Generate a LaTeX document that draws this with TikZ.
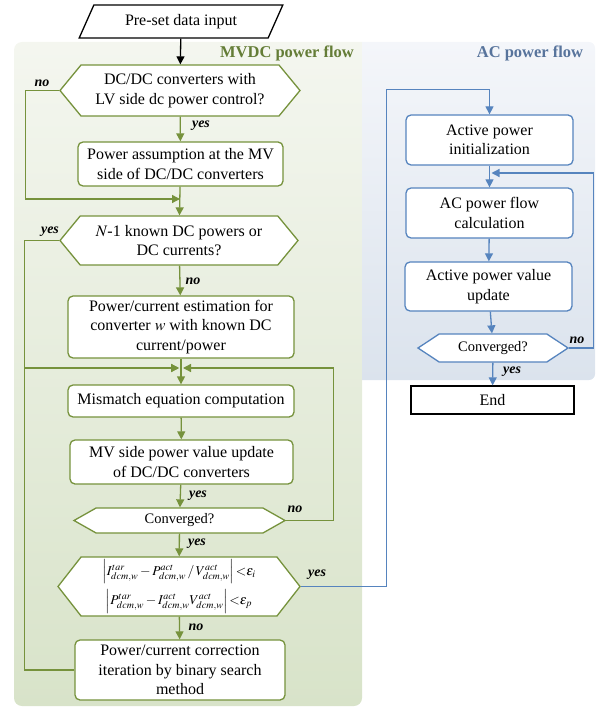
\documentclass[tikz,border=0pt]{standalone}
\usepackage{mathptmx}
\usepackage{fontspec}
\setmainfont{Liberation Serif}
\usepackage{tikz}
\usetikzlibrary{shapes.geometric, shapes.symbols}
\usetikzlibrary{arrows.meta}
\usepackage{xcolor}
\definecolor{mvGreen}{RGB}{118, 146, 60}
\definecolor{mvTitle}{RGB}{100, 125, 55}
\definecolor{acBlue}{RGB}{86, 132, 190}
\definecolor{acTitle}{RGB}{88, 116, 156}
\colorlet{mvTop}{white!92!mvGreen}
\definecolor{mvBottom}{RGB}{216, 227, 201}
\definecolor{acTop}{RGB}{244, 246, 250}
\definecolor{acBottom}{RGB}{219, 227, 237}
\tikzset{
    txt/.style={font=\fontsize{16}{19.5}\selectfont, align=center},
    small/.style={font=\fontsize{14.5}{17}\selectfont},
    mvbox/.style={txt, draw=mvGreen, fill=white, line width=1.3pt, rounded corners=5pt, inner sep=0pt},
    acbox/.style={txt, draw=acBlue, fill=white, line width=1.3pt, rounded corners=5pt, inner sep=0pt},
    mvhex/.style={txt, signal, signal to=west and east, draw=mvGreen, fill=white, line width=1.3pt, inner sep=0pt},
    achex/.style={txt, signal, signal to=west and east, draw=acBlue, fill=white, line width=1.3pt, inner sep=0pt},
    mvline/.style={draw=mvGreen, line width=1.3pt},
    acline/.style={draw=acBlue, line width=1.3pt},
    tip/.style={-{Triangle[width=8pt,length=8pt]}},
    title/.style={font=\fontsize{16.5}{19}\selectfont\bfseries},
    lbl/.style={font=\fontsize{14}{16}\selectfont\bfseries\itshape, inner sep=0pt}
}

\begin{document}
\begin{tikzpicture}[x=1pt, y=-1pt]
    \useasboundingbox (0,0) rectangle (597,708);

    % Draw the two background panels
    \shade[top color=mvTop, bottom color=mvBottom] (362,42) {[rounded corners=8pt] -- (14,42) -- (14,706) -- (362,706)} -- cycle;
    \shade[top color=acTop, bottom color=acBottom] (362,42) {[rounded corners=6pt] -- (595,42) -- (595,380)} -- (362,380) -- cycle;
    \node[title, text=mvTitle] (mvtitle) at (287,53) {MVDC power flow};
    \node[title, text=acTitle] (actitle) at (530,53) {AC power flow};

    % MVDC power flow
    \node[txt, trapezium, trapezium left angle=57, trapezium right angle=123, trapezium stretches=true,
          draw, line width=1.3pt, fill=white, minimum width=204pt, minimum height=33pt, inner sep=0pt] (input) at (181,21.5) {Pre-set data input};
    \node[mvhex, signal pointer angle=101, minimum width=240pt, minimum height=51pt] (lvctrl) at (180,90.5) {DC/DC converters with\\LV side dc power control?};
    \node[mvbox, minimum width=205pt, minimum height=44pt] (assume) at (180.5,164) {Power assumption at the MV\\side of DC/DC converters};
    \node[mvhex, signal pointer angle=101, minimum width=238pt, minimum height=49pt] (known) at (179,240.5) {$N$-1 known DC powers or\\DC currents?};
    \node[mvbox, minimum width=226pt, minimum height=62pt] (estim) at (181,327) {Power/current estimation for\\converter $w$ with known DC\\current/power};
    \node[mvbox, minimum width=226pt, minimum height=32pt] (mism) at (181,401) {Mismatch equation computation};
    \node[mvbox, minimum width=223pt, minimum height=44pt] (mvupd) at (181.5,462) {MV side power value update\\of DC/DC converters};
    \node[mvhex, small, signal pointer angle=59, minimum width=211pt, minimum height=25pt] (mvconv) at (179.5,520.5) {Converged?};
    \node[mvhex, font=\fontsize{13.5}{16}\selectfont, signal pointer angle=104, minimum width=242pt, minimum height=59pt] (check) at (179,586.5)
        {$\left|I^{tar}_{dcm,w}-P^{act}_{dcm,w}\,/\,V^{act}_{dcm,w}\right|{<}\varepsilon_i$\\[4pt]$\left|P^{tar}_{dcm,w}-I^{act}_{dcm,w}V^{act}_{dcm,w}\right|{<}\varepsilon_p$};
    \node[mvbox, minimum width=210pt, minimum height=60pt] (corr) at (180,670) {Power/current correction\\iteration by binary search\\method};

    % AC power flow
    \node[acbox, minimum width=167pt, minimum height=50pt] (init) at (489.5,140) {Active power\\initialization};
    \node[acbox, minimum width=167pt, minimum height=50pt] (acpf) at (489.5,213) {AC power flow\\calculation};
    \node[acbox, minimum width=167pt, minimum height=49pt] (acupd) at (488.5,286.5) {Active power value\\update};
    \node[achex, small, signal pointer angle=67, minimum width=150pt, minimum height=28pt] (acconv) at (493,348) {Converged?};
    \node[txt, draw, line width=1.3pt, fill=white, minimum width=163pt, minimum height=28pt, inner sep=0pt] (end) at (492.5,400) {End};

    % Junctions
    \coordinate (jin) at (181,199);
    \coordinate (jloop) at (181,368);
    \coordinate (jac) at (489.5,173);

    % Connectors of the MVDC part
    \draw[line width=1.3pt, tip] (input) -- (lvctrl);
    \draw[mvline, tip] (lvctrl) -- (assume);
    \draw[mvline, tip] (lvctrl.west) -- ++(-34,0) |- ([xshift=-1pt]jin);
    \draw[mvline, tip] (assume) -- (known);
    \draw[mvline, tip] (known) -- (estim);
    \draw[mvline, tip] (known.west) -- ++(-35,0) |- ([xshift=-2pt]jloop);
    \draw[mvline, tip] (corr.west) -- ++(-50,0) |- ([xshift=-2pt]jloop);
    \draw[mvline, tip] (mvconv.east) -- ++(47,0) |- ([xshift=2pt]jloop);
    \draw[mvline, tip] (estim) -- (mism);
    \draw[mvline, tip] (mism) -- (mvupd);
    \draw[mvline, tip] (mvupd) -- (mvconv);
    \draw[mvline, tip] (mvconv) -- (check);
    \draw[mvline, tip] (check) -- (corr);

    % Connectors of the AC part
    \draw[acline, tip] (check.east) -- ++(86,0) |- ([yshift=25pt]init.north) -- (init.north);
    \draw[acline, tip] (init) -- (acpf);
    \draw[acline, tip] (acpf) -- (acupd);
    \draw[acline, tip] (acupd) -- (acconv);
    \draw[acline, tip] (acconv.east) -- ++(24,0) |- ([xshift=2pt]jac);
    \draw[acline, tip] (acconv) -- (end);

    % Branch labels
    \node[lbl] (no1) at (42,83) {no};
    \node[lbl] (yes1) at (201,126) {yes};
    \node[lbl] (yes2) at (50,232) {yes};
    \node[lbl] (no2) at (193,281) {no};
    \node[lbl] (yes3) at (198,496) {yes};
    \node[lbl] (no3) at (295,509) {no};
    \node[lbl] (yes4) at (197,544) {yes};
    \node[lbl] (yes5) at (317,575) {yes};
    \node[lbl] (no4) at (196,627) {no};
    \node[lbl] (no5) at (577,340) {no};
    \node[lbl] (yes6) at (512,372) {yes};
\end{tikzpicture}
\end{document}
